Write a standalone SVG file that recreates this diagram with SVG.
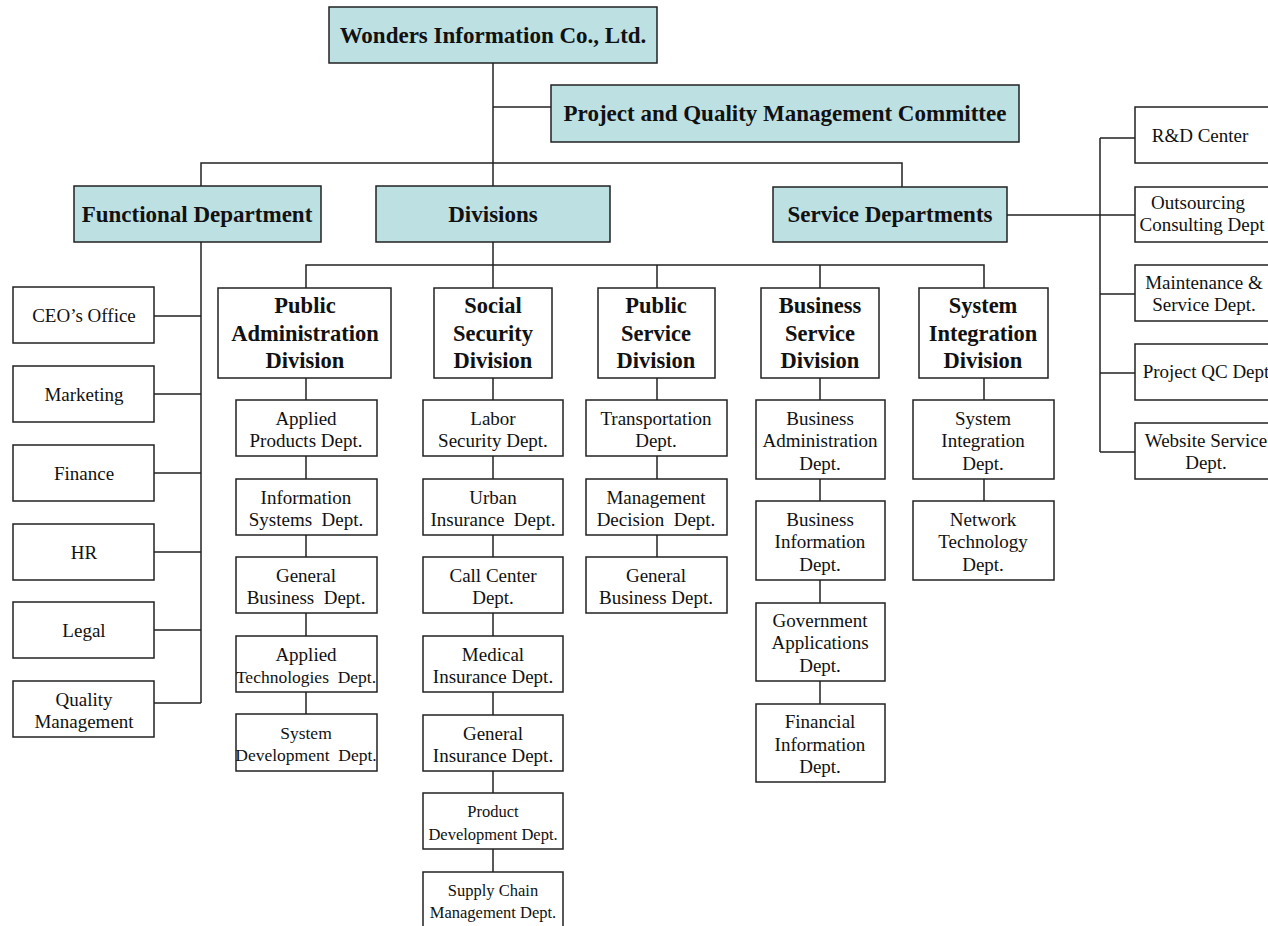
<svg xmlns="http://www.w3.org/2000/svg" width="1268" height="926" viewBox="0 0 1268 926">
  <style>
    .top { fill: #bde0e3; stroke: #222; stroke-width: 1.5; }
    .box { fill: #fff; stroke: #222; stroke-width: 1.5; }
    .ln { fill: none; stroke: #222; stroke-width: 1.5; }
    text { font-family: "Liberation Serif", "Times New Roman", serif; fill: #111; text-anchor: middle; }
    .h1 { font-size: 23px; font-weight: bold; }
    .h2 { font-size: 22.5px; font-weight: bold; }
    .t { font-size: 19px; }
    .m { font-size: 17.5px; }
    .s { font-size: 16.5px; }
  </style>
  <rect width="1268" height="926" fill="#fff"/>

  <!-- connectors -->
  <g id="connectors" class="ln">
    <path d="M493 63V288"/>
    <path d="M493 107H551"/>
    <path d="M201 186V163H902V187"/>
    <path d="M201 242V703"/>
    <path d="M154 316H201M152 394H201M154 473H201M154 552H201M154 630H201M154 703H201"/>
    <path d="M1007 215H1135"/>
    <path d="M1100 138V452"/>
    <path d="M1100 138H1135M1100 294H1135M1100 373H1135M1100 452H1135"/>
    <path d="M306 288V265H984V288"/>
    <path d="M657 265V288M820 265V288"/>
    <path d="M306 378V714"/>
    <path d="M493 378V872"/>
    <path d="M657 378V557"/>
    <path d="M820 378V704"/>
    <path d="M984 378V501"/>
  </g>

  <!-- top level -->
  <g id="company"><rect class="top" x="329" y="7" width="328" height="56"/><text class="h1" x="493" y="43">Wonders Information Co., Ltd.</text></g>
  <g id="pqmc"><rect class="top" x="551" y="85" width="468" height="57"/><text class="h1" x="785" y="121">Project and Quality Management Committee</text></g>
  <g id="functional"><rect class="top" x="74" y="186" width="247" height="56"/><text class="h1" x="197" y="222">Functional Department</text></g>
  <g id="divisions"><rect class="top" x="376" y="186" width="234" height="56"/><text class="h1" x="493" y="222">Divisions</text></g>
  <g id="service"><rect class="top" x="773" y="187" width="234" height="55"/><text class="h1" x="890" y="222">Service Departments</text></g>

  <!-- functional departments -->
  <g id="ceo"><rect class="box" x="13" y="287" width="141" height="56"/><text class="t" x="84" y="322">CEO’s Office</text></g>
  <g id="marketing"><rect class="box" x="13" y="366" width="141" height="56"/><text class="t" x="84" y="401">Marketing</text></g>
  <g id="finance"><rect class="box" x="13" y="445" width="141" height="56"/><text class="t" x="84" y="480">Finance</text></g>
  <g id="hr"><rect class="box" x="13" y="524" width="141" height="56"/><text class="t" x="84" y="559">HR</text></g>
  <g id="legal"><rect class="box" x="13" y="602" width="141" height="56"/><text class="t" x="84" y="637">Legal</text></g>
  <g id="quality"><rect class="box" x="13" y="681" width="141" height="56"/><text class="t" x="84" y="706">Quality</text><text class="t" x="84" y="728">Management</text></g>

  <!-- divisions -->
  <g id="div-pa"><rect class="box" x="218" y="288" width="173" height="90"/><text class="h2" x="305" y="313">Public</text><text class="h2" x="305" y="341">Administration</text><text class="h2" x="305" y="368">Division</text></g>
  <g id="div-ss"><rect class="box" x="434" y="288" width="118" height="90"/><text class="h2" x="493" y="313">Social</text><text class="h2" x="493" y="341">Security</text><text class="h2" x="493" y="368">Division</text></g>
  <g id="div-ps"><rect class="box" x="598" y="288" width="117" height="90"/><text class="h2" x="656" y="313">Public</text><text class="h2" x="656" y="341">Service</text><text class="h2" x="656" y="368">Division</text></g>
  <g id="div-bs"><rect class="box" x="761" y="288" width="118" height="90"/><text class="h2" x="820" y="313">Business</text><text class="h2" x="820" y="341">Service</text><text class="h2" x="820" y="368">Division</text></g>
  <g id="div-si"><rect class="box" x="919" y="288" width="129" height="90"/><text class="h2" x="983" y="313">System</text><text class="h2" x="983" y="341">Integration</text><text class="h2" x="983" y="368">Division</text></g>

  <!-- public administration departments -->
  <g id="pa-1"><rect class="box" x="236" y="400" width="141" height="56"/><text class="t" x="306" y="425">Applied</text><text class="t" x="306" y="447">Products Dept.</text></g>
  <g id="pa-2"><rect class="box" x="236" y="479" width="141" height="56"/><text class="t" x="306" y="504">Information</text><text class="t" x="306" y="526" xml:space="preserve">Systems  Dept.</text></g>
  <g id="pa-3"><rect class="box" x="236" y="557" width="141" height="56"/><text class="t" x="306" y="582">General</text><text class="t" x="306" y="604" xml:space="preserve">Business  Dept.</text></g>
  <g id="pa-4"><rect class="box" x="236" y="636" width="141" height="56"/><text class="t" x="306" y="661">Applied</text><text class="m" x="306" y="683" xml:space="preserve">Technologies  Dept.</text></g>
  <g id="pa-5"><rect class="box" x="236" y="714" width="141" height="57"/><text class="m" x="306" y="739">System</text><text class="m" x="306" y="761" xml:space="preserve">Development  Dept.</text></g>

  <!-- social security departments -->
  <g id="ss-1"><rect class="box" x="423" y="400" width="140" height="56"/><text class="t" x="493" y="425">Labor</text><text class="t" x="493" y="447">Security Dept.</text></g>
  <g id="ss-2"><rect class="box" x="423" y="479" width="140" height="56"/><text class="t" x="493" y="504">Urban</text><text class="t" x="493" y="526" xml:space="preserve">Insurance  Dept.</text></g>
  <g id="ss-3"><rect class="box" x="423" y="557" width="140" height="56"/><text class="t" x="493" y="582">Call Center</text><text class="t" x="493" y="604">Dept.</text></g>
  <g id="ss-4"><rect class="box" x="423" y="636" width="140" height="56"/><text class="t" x="493" y="661">Medical</text><text class="t" x="493" y="683">Insurance Dept.</text></g>
  <g id="ss-5"><rect class="box" x="423" y="715" width="140" height="56"/><text class="t" x="493" y="740">General</text><text class="t" x="493" y="762">Insurance Dept.</text></g>
  <g id="ss-6"><rect class="box" x="423" y="793" width="140" height="56"/><text class="s" x="493" y="817">Product</text><text class="s" x="493" y="840">Development Dept.</text></g>
  <g id="ss-7"><rect class="box" x="423" y="872" width="140" height="58"/><text class="s" x="493" y="896">Supply Chain</text><text class="s" x="493" y="918">Management Dept.</text></g>

  <!-- public service departments -->
  <g id="ps-1"><rect class="box" x="586" y="400" width="141" height="56"/><text class="t" x="656" y="425">Transportation</text><text class="t" x="656" y="447">Dept.</text></g>
  <g id="ps-2"><rect class="box" x="586" y="479" width="141" height="56"/><text class="t" x="656" y="504">Management</text><text class="t" x="656" y="526" xml:space="preserve">Decision  Dept.</text></g>
  <g id="ps-3"><rect class="box" x="586" y="557" width="141" height="56"/><text class="t" x="656" y="582">General</text><text class="t" x="656" y="604">Business Dept.</text></g>

  <!-- business service departments -->
  <g id="bs-1"><rect class="box" x="756" y="400" width="129" height="79"/><text class="t" x="820" y="425">Business</text><text class="t" x="820" y="447">Administration</text><text class="t" x="820" y="470">Dept.</text></g>
  <g id="bs-2"><rect class="box" x="756" y="501" width="129" height="79"/><text class="t" x="820" y="526">Business</text><text class="t" x="820" y="548">Information</text><text class="t" x="820" y="571">Dept.</text></g>
  <g id="bs-3"><rect class="box" x="756" y="603" width="129" height="78"/><text class="t" x="820" y="627">Government</text><text class="t" x="820" y="649">Applications</text><text class="t" x="820" y="672">Dept.</text></g>
  <g id="bs-4"><rect class="box" x="756" y="704" width="129" height="78"/><text class="t" x="820" y="728">Financial</text><text class="t" x="820" y="751">Information</text><text class="t" x="820" y="773">Dept.</text></g>

  <!-- system integration departments -->
  <g id="si-1"><rect class="box" x="913" y="400" width="141" height="79"/><text class="t" x="983" y="425">System</text><text class="t" x="983" y="447">Integration</text><text class="t" x="983" y="470">Dept.</text></g>
  <g id="si-2"><rect class="box" x="913" y="501" width="141" height="79"/><text class="t" x="983" y="526">Network</text><text class="t" x="983" y="548">Technology</text><text class="t" x="983" y="571">Dept.</text></g>

  <!-- service departments -->
  <g id="rd"><rect class="box" x="1135" y="107" width="145" height="56"/><text class="t" x="1200" y="142">R&amp;D Center</text></g>
  <g id="outsourcing"><rect class="box" x="1135" y="187" width="145" height="55"/><text class="t" x="1198" y="209">Outsourcing</text><text class="t" x="1202" y="231">Consulting Dept</text></g>
  <g id="maintenance"><rect class="box" x="1135" y="265" width="145" height="56"/><text class="t" x="1204" y="289">Maintenance &amp;</text><text class="t" x="1204" y="311">Service Dept.</text></g>
  <g id="projectqc"><rect class="box" x="1135" y="344" width="145" height="56"/><text class="t" x="1206" y="378">Project QC Dept</text></g>
  <g id="website"><rect class="box" x="1135" y="423" width="145" height="56"/><text class="t" x="1206" y="447">Website Service</text><text class="t" x="1206" y="469">Dept.</text></g>
</svg>
